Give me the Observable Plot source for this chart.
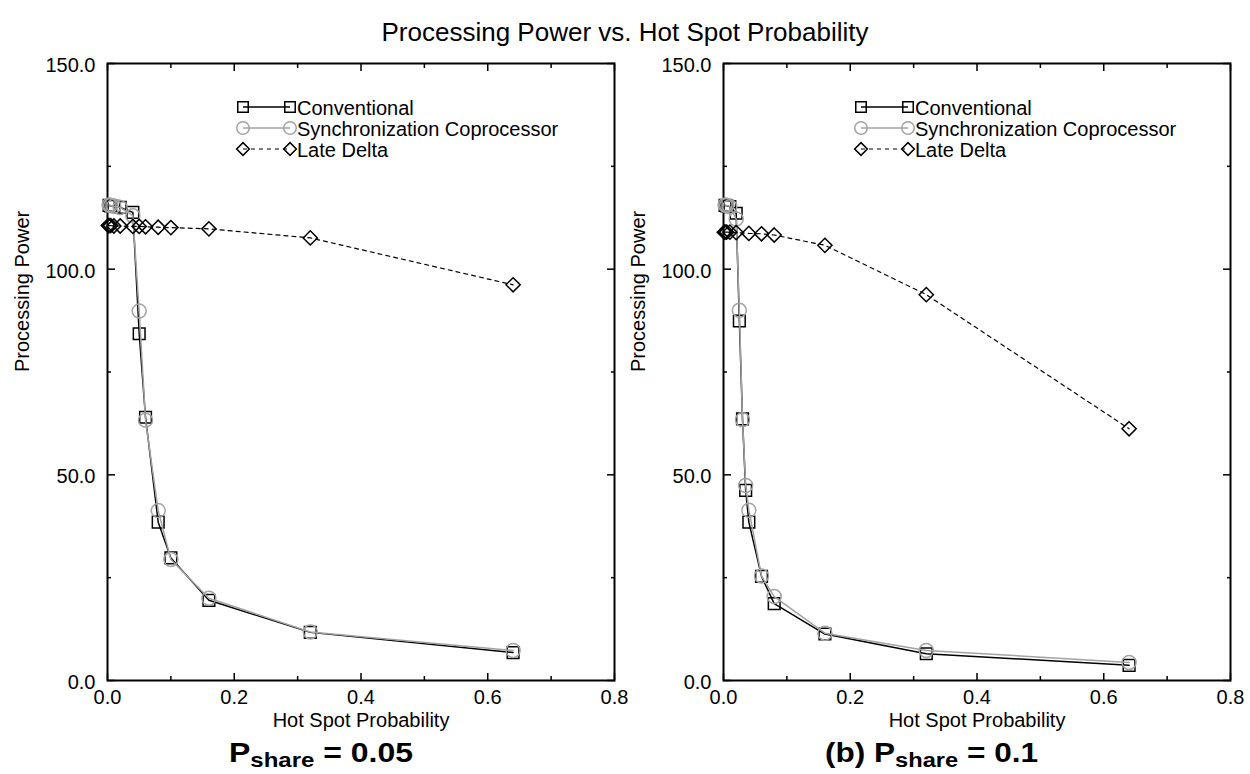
<!DOCTYPE html>
<html>
<head>
<meta charset="utf-8">
<script src="https://cdn.jsdelivr.net/npm/d3@7"></script>
<script src="https://cdn.jsdelivr.net/npm/@observablehq/plot@0.6"></script>
<style>
  body { margin: 0; background: #fff; }
  #wrap { position: relative; width: 1250px; height: 774px; overflow: hidden; background: #fff;
          font-family: "Liberation Sans", Arial, sans-serif; }
  .panel { position: absolute; top: 40px; }
  #overlay { position: absolute; left: 0; top: 0; pointer-events: none; }
</style>
</head>
<body>
<div id="wrap">
  <div class="panel" id="pa" style="left:0px"></div>
  <div class="panel" id="pb" style="left:616px"></div>
</div>
<script>
// ---------------- data ----------------
const title = "Processing Power vs. Hot Spot Probability";
const xLabel = "Hot Spot Probability";
const yLabel = "Processing Power";
const seriesNames = ["Conventional", "Synchronization Coprocessor", "Late Delta"];

const xMajorTicks = [0, 0.2, 0.4, 0.6, 0.8];
const xMinorTicks = [0.1, 0.3, 0.5, 0.7];
const yMajorTicks = [0, 50, 100, 150];
const yMinorTicks = [25, 75, 125];

// Panel (a): P_share = 0.05
const hotA = [0.0025, 0.005, 0.01, 0.02, 0.04, 0.05, 0.06, 0.08, 0.1, 0.16, 0.32, 0.64];
const convA = [115.5, 115.4, 115.3, 115.0, 113.8, 84.3, 64.0, 38.5, 29.8, 19.5, 11.7, 6.8];
const syncA = [115.6, 115.5, 115.3, 115.0, 113.0, 89.8, 63.3, 41.3, 29.4, 20.0, 11.8, 7.3];
const hotLateA = [0.00125, 0.0025, 0.005, 0.01, 0.02, 0.04, 0.05, 0.06, 0.08, 0.1, 0.16, 0.32, 0.64];
const lateA = [110.6, 110.6, 110.6, 110.5, 110.5, 110.4, 110.4, 110.3, 110.2, 110.1, 109.8, 107.6, 96.2];

// Panel (b): P_share = 0.1
const hotB = [0.0025, 0.005, 0.01, 0.02, 0.025, 0.03, 0.035, 0.04, 0.06, 0.08, 0.16, 0.32, 0.64];
const convB = [115.5, 115.4, 115.2, 113.6, 87.4, 63.6, 46.2, 38.5, 25.3, 18.7, 11.3, 6.5, 3.7];
const syncB = [115.6, 115.5, 115.2, 112.2, 90.0, 63.4, 47.4, 41.4, 25.4, 20.4, 11.5, 7.3, 4.4];
const hotLateB = [0.00125, 0.0025, 0.005, 0.01, 0.02, 0.04, 0.06, 0.08, 0.16, 0.32, 0.64];
const lateB = [109.0, 109.0, 109.0, 109.0, 108.9, 108.7, 108.6, 108.3, 105.8, 93.8, 61.2];

// ---------------- styles ----------------
const FONT = "Liberation Sans, Arial, sans-serif";
const GRAY = "#a3a3a3";
const styles = [
  {stroke: "black", symbol: "square", r: 6.6, lineWidth: 1.5, dash: null},
  {stroke: GRAY, symbol: "circle", r: 7, lineWidth: 1.5, dash: null},
  {stroke: "black", symbol: "diamond2", r: 6.4, lineWidth: 1.2, dash: "4,4"}
];

function rows(xs, ys) { return xs.map((x, i) => ({x, y: ys[i]})); }

function panel(series) {
  const marks = [
    Plot.frame({strokeWidth: 2, stroke: "black"}),
    // inward ticks on all four sides
    Plot.axisX(xMajorTicks, {anchor: "bottom", tickSize: 7, dy: -7, fill: "none", strokeWidth: 1.5}),
    Plot.axisX(xMinorTicks, {anchor: "bottom", tickSize: 4, dy: -4, fill: "none", strokeWidth: 1.5}),
    Plot.axisX(xMajorTicks, {anchor: "top", tickSize: 7, dy: 7, fill: "none", strokeWidth: 1.5}),
    Plot.axisX(xMinorTicks, {anchor: "top", tickSize: 4, dy: 4, fill: "none", strokeWidth: 1.5}),
    Plot.axisY(yMajorTicks, {anchor: "left", tickSize: 8, dx: 8, fill: "none", strokeWidth: 1.5}),
    Plot.axisY(yMinorTicks, {anchor: "left", tickSize: 4, dx: 4, fill: "none", strokeWidth: 1.5}),
    Plot.axisY(yMajorTicks, {anchor: "right", tickSize: 8, dx: -8, fill: "none", strokeWidth: 1.5}),
    Plot.axisY(yMinorTicks, {anchor: "right", tickSize: 4, dx: -4, fill: "none", strokeWidth: 1.5}),
    // tick labels
    Plot.axisX(xMajorTicks, {anchor: "bottom", tickSize: 0, tickPadding: 9, label: null,
      tickFormat: d => d.toFixed(1), fontSize: 20, fill: "black"}),
    Plot.axisY(yMajorTicks, {anchor: "left", tickSize: 0, tickPadding: 12, dy: 2, label: null,
      tickFormat: d => d.toFixed(1), fontSize: 20, fill: "black"}),
    // axis titles
    Plot.text([xLabel], {frameAnchor: "bottom", dy: 46, fontSize: 20, fill: "black"}),
    Plot.text([yLabel], {frameAnchor: "left", dx: -85, rotate: -90, fontSize: 20, fill: "black"})
  ];
  series.forEach((s, k) => {
    const st = styles[k];
    const data = rows(s.x, s.y);
    marks.push(Plot.line(data, {x: "x", y: "y", stroke: st.stroke, strokeWidth: st.lineWidth,
      strokeDasharray: st.dash}));
    marks.push(Plot.dot(data, {x: "x", y: "y", symbol: st.symbol, r: st.r, stroke: st.stroke,
      strokeWidth: 1.5, fill: "none"}));
  });
  return Plot.plot({
    width: 625, height: 700,
    marginLeft: 107, marginRight: 11, marginTop: 23, marginBottom: 60,
    style: {fontFamily: FONT, background: "none", color: "black", overflow: "visible"},
    x: {domain: [0, 0.8]},
    y: {domain: [0, 150]},
    marks
  });
}

document.getElementById("pa").appendChild(panel([
  {x: hotA, y: convA}, {x: hotA, y: syncA}, {x: hotLateA, y: lateA}
]));
document.getElementById("pb").appendChild(panel([
  {x: hotB, y: convB}, {x: hotB, y: syncB}, {x: hotLateB, y: lateB}
]));

// ---------------- overlay: title, legends, captions ----------------
const svg = d3.select("#wrap").append("svg").attr("id", "overlay")
  .attr("width", 1250).attr("height", 774)
  .style("font-family", FONT);

svg.append("text").attr("x", 625).attr("y", 41).attr("text-anchor", "middle")
  .attr("font-size", 26).text(title);

function legend(x0, y0) {
  const g = svg.append("g");
  seriesNames.forEach((name, i) => {
    const st = styles[i];
    const y = y0 + i * 21;
    g.append("line").attr("x1", x0).attr("x2", x0 + 47).attr("y1", y).attr("y2", y)
      .attr("stroke", st.stroke).attr("stroke-width", st.lineWidth)
      .attr("stroke-dasharray", st.dash);
    const sym = {square: d3.symbolSquare, circle: d3.symbolCircle, diamond2: d3.symbolDiamond2}[st.symbol];
    const path = d3.symbol(sym, st.r * st.r * Math.PI * 0.8)();
    [x0, x0 + 47].forEach(sx => {
      g.append("path").attr("d", path).attr("transform", `translate(${sx},${y})`)
        .attr("fill", "none").attr("stroke", st.stroke).attr("stroke-width", 1.5);
    });
    g.append("text").attr("x", x0 + 54).attr("y", y + 3).attr("dominant-baseline", "middle")
      .attr("font-size", 20).text(name);
  });
}
legend(243, 107);
legend(861, 107);

function caption(x, prefix, value, width) {
  const t = svg.append("text").attr("x", x).attr("y", 762).attr("font-weight", "bold")
    .attr("font-size", 28);
  t.append("tspan").text(prefix + "P");
  t.append("tspan").attr("font-size", 21).attr("dy", 5).text("share");
  t.append("tspan").attr("dy", -5).text(" = " + value);
  t.attr("textLength", width).attr("lengthAdjust", "spacingAndGlyphs");
}
caption(229, "", "0.05", 184);
caption(825, "(b) ", "0.1", 213);
</script>
</body>
</html>
